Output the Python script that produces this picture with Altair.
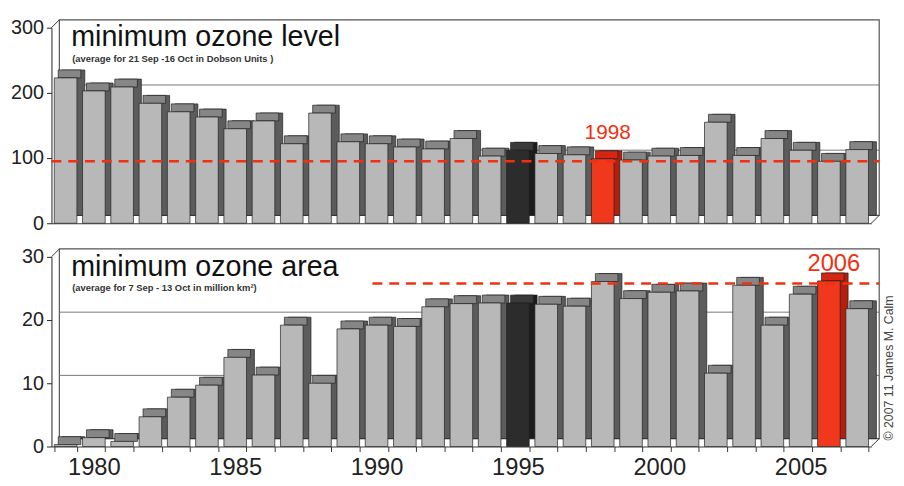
import altair as alt
import pandas as pd

years = list(range(1979, 2008))
ozone_level = [223, 203, 209, 184, 171, 163, 145, 157, 122, 169, 125, 122, 117, 114,
               130, 103, 112, 107, 105, 99, 97, 103, 104, 155, 104, 130, 112, 95, 113]
ozone_area = [0.3, 1.4, 0.8, 4.7, 7.8, 9.7, 14.1, 11.3, 19.2, 10.0, 18.6, 19.2, 19.0, 22.1,
              22.6, 22.7, 22.7, 22.5, 22.2, 26.1, 23.4, 24.4, 24.6, 11.6, 25.5, 19.2, 24.1, 26.2, 21.8]
reference_year = 1995
level_record_year = 1998
area_record_year = 2006
level_record_line = 95
area_record_line = 25.8
level_ticks = [0, 100, 200, 300]
area_ticks = [0, 10, 20, 30]
level_grid = [100, 200]
area_grid = [10, 20]

FONT = "Liberation Sans"
W = 830
D = 8
RED = "#f2300f"

front_dom = ["normal", "ref", "record"]


def kind(y, hi):
    if y == reference_year:
        return "ref"
    if y == hi:
        return "record"
    return "normal"


def panel(values, hi, dmax, H, ticks, grid, title, subtitle, record, rec_x0,
          label_size, label_dy, bottom):
    df = pd.DataFrame({"year": years, "value": values,
                       "kind": [kind(y, hi) for y in years]})
    one = pd.DataFrame({"v": [0]})
    xscale = alt.Scale(paddingInner=0.2, paddingOuter=0.1)
    if bottom:
        xaxis = alt.Axis(labelExpr="datum.value % 5 == 0 ? datum.label : ''",
                         tickBand="extent", labelAngle=0, labelFontSize=24,
                         labelColor="#222", tickSize=5, tickColor="#333",
                         domainColor="#333", title=None, labelPadding=4,
                         labelOverlap=False, labelFont=FONT)
    else:
        xaxis = alt.Axis(labels=False, ticks=False, title=None, domainColor="#333")
    yscale = alt.Scale(domain=[0, dmax], nice=False)
    yaxis = alt.Axis(values=ticks, grid=False, title=None, labelFontSize=20,
                     labelColor="#222", tickSize=5, tickColor="#222",
                     domainColor="#222", labelPadding=3, labelFont=FONT)
    X = alt.X("year:O", scale=xscale, axis=xaxis, title=None)
    Y = alt.Y("value:Q", scale=yscale, axis=yaxis, title=None)

    wall = alt.Chart(one).mark_rect(fill="white", stroke="#555", strokeWidth=1.2).encode(
        x=alt.value(D), x2=alt.value(W + D), y=alt.value(-D), y2=alt.value(H - D))
    diag1 = alt.Chart(one).mark_rule(color="#333", strokeWidth=1).encode(
        x=alt.value(0), x2=alt.value(D), y=alt.value(0), y2=alt.value(-D))
    diag2 = alt.Chart(one).mark_rule(color="#333", strokeWidth=1).encode(
        x=alt.value(W), x2=alt.value(W + D), y=alt.value(H), y2=alt.value(H - D))
    gdf = pd.DataFrame({"value": grid})
    grid_l = alt.Chart(gdf).mark_rule(color="#777", strokeWidth=1, yOffset=-D).encode(
        y=Y, x=alt.value(D), x2=alt.value(W + D))

    side = alt.Chart(df).mark_bar(xOffset=D, yOffset=-D, y2Offset=-D,
                                  stroke="#222", strokeWidth=0.7).encode(
        x=X, y=Y, y2=alt.datum(0),
        color=alt.Color("kind:N", scale=alt.Scale(domain=front_dom,
                        range=["#5c5c5c", "#1c1c1c", "#b51e0c"]), legend=None))
    top = alt.Chart(df).mark_bar(xOffset=D / 2, yOffset=-D, y2Offset=0,
                                 stroke="#222", strokeWidth=0.7).encode(
        x=X, y=Y, y2="value:Q",
        color=alt.Color("kind:N", scale=alt.Scale(domain=front_dom,
                        range=["#868686", "#3a3a3a", "#d42612"]), legend=None))
    front = alt.Chart(df).mark_bar(stroke="#222", strokeWidth=0.7).encode(
        x=X, y=Y, y2=alt.datum(0),
        color=alt.Color("kind:N", scale=alt.Scale(domain=front_dom,
                        range=["#b8b8b8", "#2c2c2c", "#f0381c"]), legend=None))

    rdf = pd.DataFrame({"value": [record]})
    rec_line = alt.Chart(rdf).mark_rule(color=RED, strokeWidth=2.5,
                                        strokeDash=[10, 7]).encode(
        y=Y, x=alt.value(rec_x0), x2=alt.value(W + D))

    t1 = alt.Chart(one).mark_text(align="left", baseline="alphabetic", fontSize=29,
                                  font=FONT, color="#111").encode(
        x=alt.value(20), y=alt.value(19), text=alt.value(title))
    t2 = alt.Chart(one).mark_text(align="left", baseline="alphabetic", fontSize=9.5,
                                  font=FONT, fontWeight="bold", color="#333").encode(
        x=alt.value(21), y=alt.value(35), text=alt.value(subtitle))

    hdf = df[df["year"] == hi]
    rec_lbl = alt.Chart(hdf).mark_text(baseline="alphabetic", fontSize=label_size,
                                       font=FONT, color=RED, dx=5, dy=label_dy).encode(
        x=X, y=Y, text=alt.Text("year:N"))

    layers = [wall, grid_l, diag1, diag2, side, top, front, rec_line, t1, t2, rec_lbl]
    if bottom:
        cp = alt.Chart(one).mark_text(align="left", baseline="middle", angle=270,
                                      fontSize=12.5, font=FONT, color="#444").encode(
            x=alt.value(W + 18), y=alt.value(H - 6),
            text=alt.value("\u00a9 2007 11 James M. Calm"))
        layers.append(cp)
    return alt.layer(*layers).resolve_scale(color="independent").properties(
        width=W, height=H)


top_chart = panel(ozone_level, level_record_year, 300, 198, level_ticks, level_grid,
                  "minimum ozone level",
                  "(average for 21 Sep -16 Oct in Dobson Units )",
                  level_record_line, 0, 21, -20, False)
bottom_chart = panel(ozone_area, area_record_year, 30, 192, area_ticks, area_grid,
                     "minimum ozone area",
                     "(average for 7 Sep - 13 Oct in million km\u00b2)",
                     area_record_line, 325, 24, -10, True)

chart = alt.vconcat(top_chart, bottom_chart, spacing=34, bounds="flush").properties(
    padding={"left": 2, "top": 7, "right": 0, "bottom": 0}
).configure_view(stroke=None)

chart.save("out.html", embed_options={"renderer": "svg", "actions": False})
